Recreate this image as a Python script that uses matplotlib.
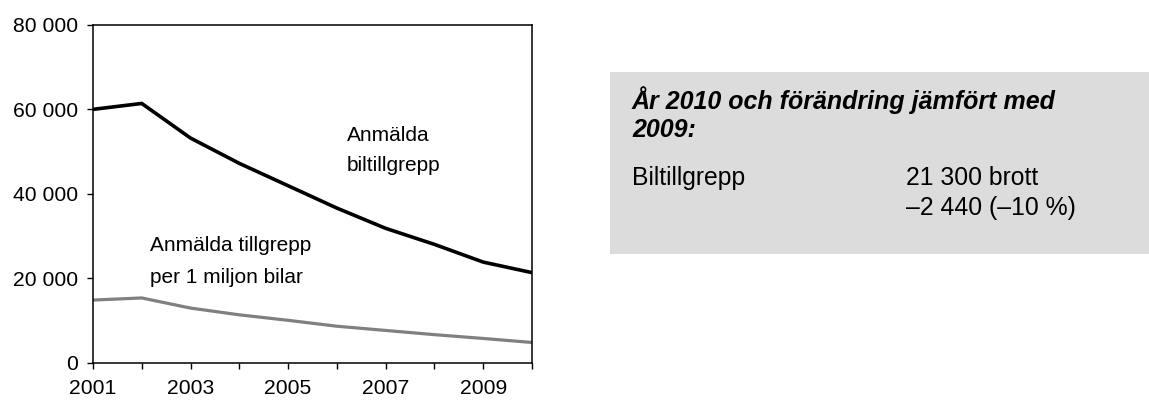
import matplotlib
matplotlib.use("Agg")
import matplotlib.pyplot as plt
from matplotlib.patches import Rectangle
from matplotlib.ticker import FuncFormatter

plt.rcParams['font.family'] = ['Liberation Sans', 'DejaVu Sans']

years = [2001, 2002, 2003, 2004, 2005, 2006, 2007, 2008, 2009, 2010]
biltillgrepp = [60000, 61400, 53200, 47200, 41900, 36600, 31800, 28000, 23800, 21300]
per_miljon = [14800, 15300, 12900, 11300, 10000, 8600, 7600, 6600, 5700, 4750]
xtick_labels = ['2001', '', '2003', '', '2005', '', '2007', '', '2009', '']
yticks = [0, 20000, 40000, 60000, 80000]

fig = plt.figure(figsize=(11.49, 4.01), dpi=100)
ax = fig.add_axes([0.0809, 0.096, 0.3821, 0.8417])

ax.plot(years, biltillgrepp, color='black', lw=2.6, solid_joinstyle='miter')
ax.plot(years, per_miljon, color='#808080', lw=2.3, solid_joinstyle='miter')

ax.set_xlim(2001, 2010)
ax.set_ylim(0, 80000)
ax.set_xticks(years)
ax.set_xticklabels(xtick_labels)
ax.set_yticks(yticks)
ax.yaxis.set_major_formatter(FuncFormatter(lambda v, p: f"{int(v):,}".replace(",", " ")))
ax.tick_params(axis='both', direction='out', length=4, width=1.0, labelsize=15.2, color='black')
ax.tick_params(axis='x', pad=8)
ax.tick_params(axis='y', pad=7)
for s in ax.spines.values():
    s.set_linewidth(1.1)
    s.set_color('black')

ax.text(2006.2, 50300, "Anmälda\nbiltillgrepp", fontsize=15, ha='left', va='center', linespacing=1.75)
ax.text(2002.17, 23900, "Anmälda tillgrepp\nper 1 miljon bilar", fontsize=15, ha='left', va='center', linespacing=1.85)

# info box
fig.patches.append(Rectangle((610/1149, (401-254)/401), (1149-610)/1149, (254-72)/401,
                             transform=fig.transFigure, facecolor='#dcdcdc', edgecolor='none', zorder=0))
fig.text(632/1149, 1-100/401, "År 2010 och förändring jämfört med", fontsize=18,
         fontweight='bold', fontstyle='italic', ha='left', va='center')
fig.text(632/1149, 1-130/401, "2009:", fontsize=18,
         fontweight='bold', fontstyle='italic', ha='left', va='center')
fig.text(632/1149, 1-178/401, "Biltillgrepp", fontsize=17.8, ha='left', va='center')
fig.text(906/1149, 1-178/401, "21 300 brott", fontsize=17.8, ha='left', va='center')
fig.text(906/1149, 1-208/401, "–2 440 (–10 %)", fontsize=17.8, ha='left', va='center')

fig.savefig("out.png", dpi=100)
